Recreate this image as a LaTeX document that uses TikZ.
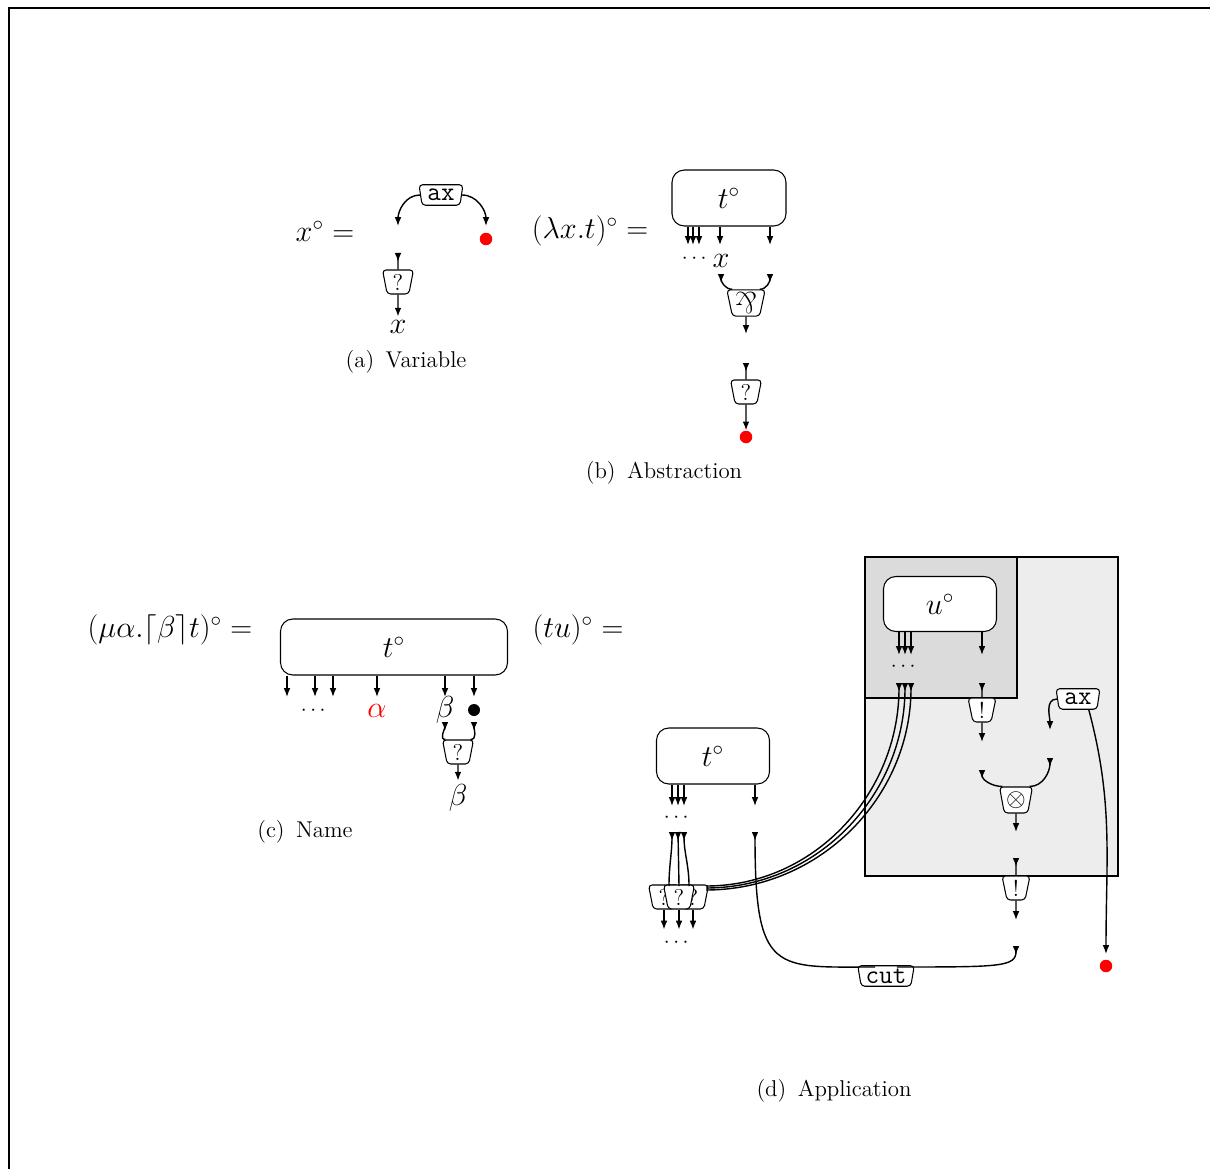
\documentclass[tikz,border=0pt]{standalone}
\usepackage{amsmath}
\usepackage{amssymb}
\usepackage{xcolor}
\usepackage{graphicx}
\usetikzlibrary{arrows.meta,shapes.geometric,positioning}
\tikzset{
  wire/.style={line width=0.8pt},
  tip/.style={wire,-{Latex[length=5pt,width=3.8pt]}},
  rtip/.style={wire,{Latex[length=5pt,width=3.8pt,reversed]}-},
  cell/.style={draw,fill=white,line width=0.6pt,trapezium,trapezium angle=102,
    trapezium stretches=true,rounded corners=2pt,inner xsep=3pt,inner ysep=1.5pt,
    minimum height=0.48cm,minimum width=0.62cm,font=\fontsize{13}{15}\selectfont},
  ttcell/.style={cell,font=\fontsize{15}{17}\selectfont\ttfamily,minimum height=0.41cm,
    inner xsep=2.5pt,inner ysep=0.5pt},
  term/.style={draw,fill=white,line width=0.6pt,rectangle,rounded corners=7pt,
    minimum height=1.12cm},
  dots/.style={font=\fontsize{13}{15}\selectfont},
  caption/.style={font=\fontsize{13}{15}\selectfont},
  reddot/.style={circle,fill=red,inner sep=0pt,minimum size=0.25cm},
  blackdot/.style={circle,fill=black,inner sep=0pt,minimum size=0.24cm},
}

\begin{document}
\begin{tikzpicture}[x=0.02cm,y=-0.02cm,font=\fontsize{16.5}{19}\selectfont]
\useasboundingbox (0,0) rectangle (1210,1169);
\draw[line width=1pt] (9,1169) -- (9,8) -- (1210,8);

% (a) variable
\node (eqa) at (325,231) {$x^\circ =$};
\node[ttcell,minimum width=0.88cm] (axa) at (441,195) {ax};
\coordinate (a1) at (398,226);
\coordinate (a2) at (486,226);
\node[reddot] (ra) at (486,239) {};
\draw[tip] (axa.west) to[out=180,in=90] (a1);
\draw[tip] (axa.east) to[out=0,in=90] (a2);
\coordinate (a3) at (398,253);
\node[cell] (qa) at (398,282) {?};
\node[inner sep=2pt] (xa) at (398,327) {$x$};
\draw[rtip] (a3) -- (qa.north);
\draw[tip] (qa.south) -- (xa);
\node[caption] (capa) at (406,362) {(a)\enspace Variable};

% (b) abstraction
\node (eqb) at (590,231) {$(\lambda x.t)^\circ =$};
\node[term,minimum width=2.28cm] (tb) at (729,198) {$t^\circ$};
\foreach \x [count=\i] in {688,693,699,720,770}
  \coordinate (b\i) at (\x,245);
\foreach \i in {1,...,5}
  \draw[tip] (tb.south -| b\i) -- (b\i);
\node[dots] (db) at (696,259) {$\cdots$};
\node[inner sep=1pt] (xb) at (721,261) {$x$};
\coordinate (b6) at (721,274);
\coordinate (b7) at (770,274);
\node[cell,inner xsep=1.5pt,minimum height=0.52cm,minimum width=0.72cm,
  font=\fontsize{16}{18}\selectfont] (par) at (746,303) {\rotatebox[origin=c]{180}{$\&$}};
\draw[rtip] (b6) to[out=-90,in=180] (par.north west);
\draw[rtip] (b7) to[out=-90,in=0] (par.north east);
\coordinate (b8) at (746,334);
\draw[tip] (par.south) -- (b8);
\coordinate (b9) at (746,363);
\node[cell] (qb) at (746,392) {?};
\node[reddot] (rb) at (746,437) {};
\draw[rtip] (b9) -- (qb.north);
\draw[tip] (qb.south) -- (rb);
\node[caption] (capb) at (664,473) {(b)\enspace Abstraction};

% (c) name
\node (eqc) at (170,630) {$(\mu\alpha.\lceil\beta\rceil t)^\circ =$};
\node[term,minimum width=4.54cm] (tc) at (394,647) {$t^\circ$};
\foreach \x [count=\i] in {287,315,333,377,445,474}
  \coordinate (c\i) at (\x,697);
\foreach \i in {1,...,6}
  \draw[tip] (tc.south -| c\i) -- (c\i);
\node[dots] (dc) at (315,711) {$\cdots$};
\node[text=red] (alc) at (377,711) {$\alpha$};
\node[inner sep=1pt] (bec) at (445,710) {$\beta$};
\node[blackdot] (kc) at (474,710) {};
\coordinate (c7) at (445,722);
\coordinate (c8) at (474,722);
\node[cell] (qc) at (458,752) {?};
\draw[rtip] (c7) to[out=-90,in=180] (qc.north west);
\draw[rtip] (c8) to[out=-90,in=0] (qc.north east);
\node[inner sep=2pt] (bec2) at (458,798) {$\beta$};
\draw[tip] (qc.south) -- (bec2);
\node[caption] (capc) at (305,832) {(c)\enspace Name};

% (d) application
\node (eqd) at (578,630) {$(tu)^\circ =$};
\fill[black!7] (865,557) rectangle (1118,876);
\fill[black!14] (865,557) rectangle (1017,698);
\draw[line width=1.1pt] (865,557) rectangle (1118,876);
\draw[line width=1.1pt] (865,557) rectangle (1017,698);

\node[term,minimum width=2.26cm,minimum height=1.1cm] (tu) at (940,604) {$u^\circ$};
\foreach \x [count=\i] in {899,905,911,982}
  \coordinate (u\i) at (\x,655);
\foreach \i in {1,...,4}
  \draw[tip] (tu.south -| u\i) -- (u\i);
\node[dots] (du) at (905,667) {$\cdots$};
\coordinate (u5) at (899,683);
\coordinate (u6) at (905,683);
\coordinate (u7) at (911,683);
\coordinate (u8) at (982,683);
\node[cell,minimum width=0.56cm] (ea) at (982,710) {!};
\draw[rtip] (u8) -- (ea.north);
\coordinate (u9) at (982,742);
\draw[tip] (ea.south) -- (u9);

\node[ttcell,minimum width=0.88cm] (axd) at (1078,699) {ax};
\coordinate (u10) at (1050,730);
\coordinate (u11) at (1106,954);
\node[reddot] (rd) at (1106,966) {};
\draw[tip] (axd.west) to[out=180,in=90] (u10);
\draw[tip] (axd.south east) to[out=-75,in=90] (u11);

\coordinate (u12) at (982,770);
\coordinate (u13) at (1050,758);
\node[cell,inner xsep=1pt,minimum height=0.52cm,minimum width=0.66cm,
  font=\fontsize{15}{17}\selectfont] (ten) at (1016,800) {$\otimes$};
\draw[rtip] (u12) to[out=-90,in=180] (ten.north west);
\draw[rtip] (u13) to[out=-90,in=0] (ten.north east);
\coordinate (u14) at (1016,832);
\draw[tip] (ten.south) -- (u14);
\coordinate (u15) at (1016,858);
\node[cell,minimum width=0.56cm] (eb) at (1016,888) {!};
\draw[rtip] (u15) -- (eb.north);
\coordinate (u16) at (1016,920);
\draw[tip] (eb.south) -- (u16);

\node[term,minimum width=2.26cm] (td) at (713,756) {$t^\circ$};
\foreach \x [count=\i] in {672,678,684,755}
  \coordinate (t\i) at (\x,806);
\foreach \i in {1,...,4}
  \draw[tip] (td.south -| t\i) -- (t\i);
\node[dots] (dt) at (678,818) {$\cdots$};
\coordinate (t5) at (672,832);
\coordinate (t6) at (678,832);
\coordinate (t7) at (684,832);
\coordinate (t8) at (755,832);
\node[cell] (q1) at (664,897) {?};
\node[cell] (q3) at (693,897) {?};
\node[cell] (q2) at (679,897) {?};
\coordinate (t9) at (669,886);
\coordinate (t10) at (679,886);
\coordinate (t11) at (689,886);
\draw[rtip] (t5) to[out=-90,in=90] (t9);
\draw[rtip] (t6) -- (t10);
\draw[rtip] (t7) to[out=-90,in=90] (t11);
\coordinate (t12) at (706,886);
\coordinate (t13) at (706,888);
\coordinate (t14) at (706,890);
\draw[rtip] (u5) to[out=-90,in=0] (t12);
\draw[rtip] (u6) to[out=-90,in=0] (t13);
\draw[rtip] (u7) to[out=-90,in=0] (t14);
\foreach \q in {q1,q2,q3}
  \draw[tip] (\q.south) -- ++(0,20);
\node[dots] (dq) at (678,943) {$\cdots$};

\coordinate (u17) at (1016,946);
\node[ttcell,minimum width=1.0cm] (cut) at (886,976) {cut};
\draw[rtip] (t8) .. controls (755,975) and (775,967) .. ([yshift=-1pt]cut.north west);
\draw[rtip] (u17) .. controls (1016,967) and (1000,967) .. ([yshift=-1pt]cut.north east);
\node[caption] (capd) at (834,1091) {(d)\enspace Application};
\end{tikzpicture}
\end{document}
